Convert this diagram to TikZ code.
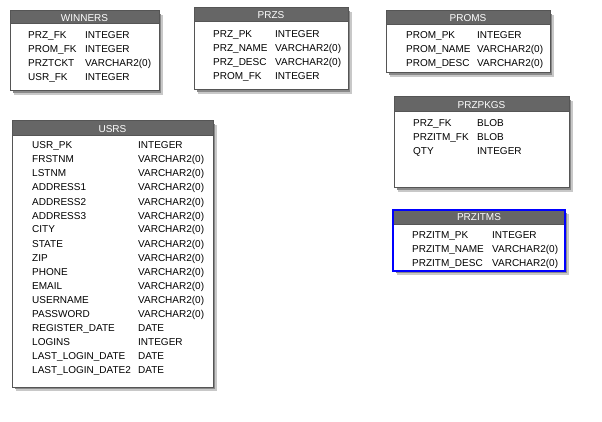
\documentclass[tikz,border=0pt]{standalone}
\usepackage{fontspec}
\setmainfont{Liberation Sans}
\definecolor{hdr}{HTML}{666666}
\definecolor{frame}{HTML}{555555}
\definecolor{shd}{HTML}{8A8A8A}
\definecolor{shdl}{HTML}{C8C8C8}
\begin{document}
\begin{tikzpicture}[x=1pt, y=-1pt, font=\fontsize{10}{12}\selectfont,
  fld/.style={anchor=base west, inner sep=0pt},
  ttl/.style={anchor=base, inner sep=0pt, text=white}]
\useasboundingbox (0,0) rectangle (602,422);
% tables: left/top/right/bottom/header
\foreach \l/\t/\r/\b/\h in {10/11/159/91/24, 194/8/348/90/22, 386/11/550/73/25,
  394/97/569/188/112, 393/210/565/271/224, 12/121/213/387/136}{
\fill[shdl] (\l+4,\t+4) rectangle (\r+4,\b+4);
\fill[shd] (\l+3,\t+3) rectangle (\r+2,\b+2);
\filldraw[fill=white, draw=frame, line width=1pt] (\l,\t) rectangle (\r,\b);
\filldraw[fill=hdr, draw=frame, line width=1pt] (\l,\t) rectangle (\r,\h);
}
\draw[blue, line width=1.2pt] (393,210) rectangle (565,271);
% titles
\node[ttl] (winners) at (84.5,21.5) {WINNERS};
\node[ttl] (przs) at (271,19) {PRZS};
\node[ttl] (proms) at (468,22) {PROMS};
\node[ttl] (przpkgs) at (481.5,108.5) {PRZPKGS};
\node[ttl] (przitms) at (479,221) {PRZITMS};
\node[ttl] (usrs) at (112.5,132.5) {USRS};
% columns
\foreach \n/\ty [count=\i] in {PRZ\_FK/INTEGER, PROM\_FK/INTEGER, PRZTCKT/VARCHAR2(0), USR\_FK/INTEGER}{
\node[fld] (winners-n\i) at (28,25+14*\i) {\n};
\node[fld] (winners-t\i) at (85,25+14*\i) {\ty};
}
\foreach \n/\ty [count=\i] in {PRZ\_PK/INTEGER, PRZ\_NAME/VARCHAR2(0), PRZ\_DESC/VARCHAR2(0), PROM\_FK/INTEGER}{
\node[fld] (przs-n\i) at (213,24+14*\i) {\n};
\node[fld] (przs-t\i) at (275,24+14*\i) {\ty};
}
\foreach \n/\ty [count=\i] in {PROM\_PK/INTEGER, PROM\_NAME/VARCHAR2(0), PROM\_DESC/VARCHAR2(0)}{
\node[fld] (proms-n\i) at (406,25+14*\i) {\n};
\node[fld] (proms-t\i) at (477,25+14*\i) {\ty};
}
\foreach \n/\ty [count=\i] in {PRZ\_FK/BLOB, PRZITM\_FK/BLOB, QTY/INTEGER}{
\node[fld] (przpkgs-n\i) at (413,113+14*\i) {\n};
\node[fld] (przpkgs-t\i) at (477,113+14*\i) {\ty};
}
\foreach \n/\ty [count=\i] in {PRZITM\_PK/INTEGER, PRZITM\_NAME/VARCHAR2(0), PRZITM\_DESC/VARCHAR2(0)}{
\node[fld] (przitms-n\i) at (412,224+14*\i) {\n};
\node[fld] (przitms-t\i) at (492,224+14*\i) {\ty};
}
\foreach \n/\ty [count=\i] in {USR\_PK/INTEGER, FRSTNM/VARCHAR2(0), LSTNM/VARCHAR2(0),
  ADDRESS1/VARCHAR2(0), ADDRESS2/VARCHAR2(0), ADDRESS3/VARCHAR2(0), CITY/VARCHAR2(0),
  STATE/VARCHAR2(0), ZIP/VARCHAR2(0), PHONE/VARCHAR2(0), EMAIL/VARCHAR2(0),
  USERNAME/VARCHAR2(0), PASSWORD/VARCHAR2(0), REGISTER\_DATE/DATE, LOGINS/INTEGER,
  LAST\_LOGIN\_DATE/DATE, LAST\_LOGIN\_DATE2/DATE}{
\node[fld] (usrs-n\i) at (32,135+14*\i) {\n};
\node[fld] (usrs-t\i) at (138,135+14*\i) {\ty};
}
\end{tikzpicture}
\end{document}
